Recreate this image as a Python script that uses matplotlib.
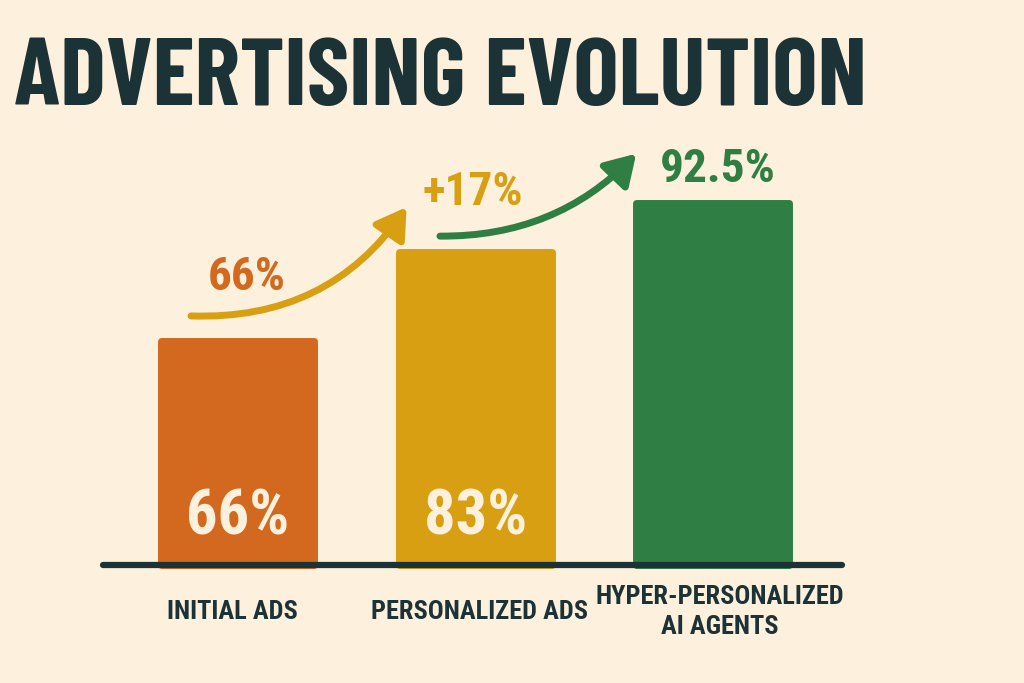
import matplotlib.pyplot as plt
from matplotlib.patches import FancyArrowPatch
import numpy as np

categories = ["INITIAL ADS", "PERSONALIZED ADS", "HYPER-PERSONALIZED\nAI AGENTS"]
values = [66, 83, 92.5]
inner_labels = ["66%", "83%", ""]
top_labels = ["66%", "+17%", "92.5%"]
colors = ["#d2691f", "#d89f12", "#2f7f44"]

bg = "#fdf0dc"
dark = "#1b3336"
font = ["Roboto Condensed", "DejaVu Sans"]
title_font = ["Barlow Condensed", "Roboto Condensed", "DejaVu Sans"]
BASE = 22.3  # value sitting on the baseline

fig = plt.figure(figsize=(10.24, 6.83), dpi=100, facecolor=bg)
ax = fig.add_axes([0, 0, 1, 1])
ax.set_facecolor(bg)
ax.set_xlim(-1.0, 3.31)
ax.set_ylim(-0.35, 130.7)
ax.axis("off")

x = np.arange(len(values))
ax.bar(x, np.array(values) - BASE - 0.7, bottom=BASE, width=0.645,
       color=colors, edgecolor=colors, linewidth=5, joinstyle="round", zorder=2)

# baseline
ax.plot([-0.566, 2.545], [BASE, BASE], color=dark, lw=4.5, solid_capstyle="round", zorder=3)

# values inside bars
for i, lab in enumerate(inner_labels):
    if lab:
        ax.text(x[i], BASE + 5.8, lab, ha="center", va="baseline", color="#fdf0dc",
                fontsize=45, fontweight="bold", family=font, zorder=4)

# category labels
for i, lab in enumerate(categories):
    ax.text(x[i] + [-0.02, 0.02, 0.03][i], 13.3, lab, ha="center", va="center", color=dark,
            fontsize=19, fontweight="bold", family=font, linespacing=1.3)

# labels above bars
offsets = [(0.04, 9.0), (-0.01, 8.4), (0.02, 3.3)]
for i, lab in enumerate(top_labels):
    ax.text(x[i] + offsets[i][0], values[i] + offsets[i][1], lab, ha="center",
            va="baseline", color=colors[i], fontsize=34, fontweight="bold", family=font)

# curved arrows
a1 = FancyArrowPatch((-0.208, 70.1), (0.718, 91.4), connectionstyle="arc3,rad=0.28",
                     arrowstyle="-|>,head_length=18,head_width=11", lw=5,
                     color=colors[1], zorder=3)
a2 = FancyArrowPatch((0.84, 85.4), (1.686, 101.6), connectionstyle="arc3,rad=0.22",
                     arrowstyle="-|>,head_length=18,head_width=11", lw=5,
                     color=colors[2], zorder=3)
ax.add_patch(a1)
ax.add_patch(a2)

fig.text(0.014, 578 / 683, "ADVERTISING EVOLUTION", ha="left", va="baseline", color=dark,
         fontsize=69, fontweight="bold", family=title_font)

fig.savefig("out.png", dpi=100, facecolor=bg)
